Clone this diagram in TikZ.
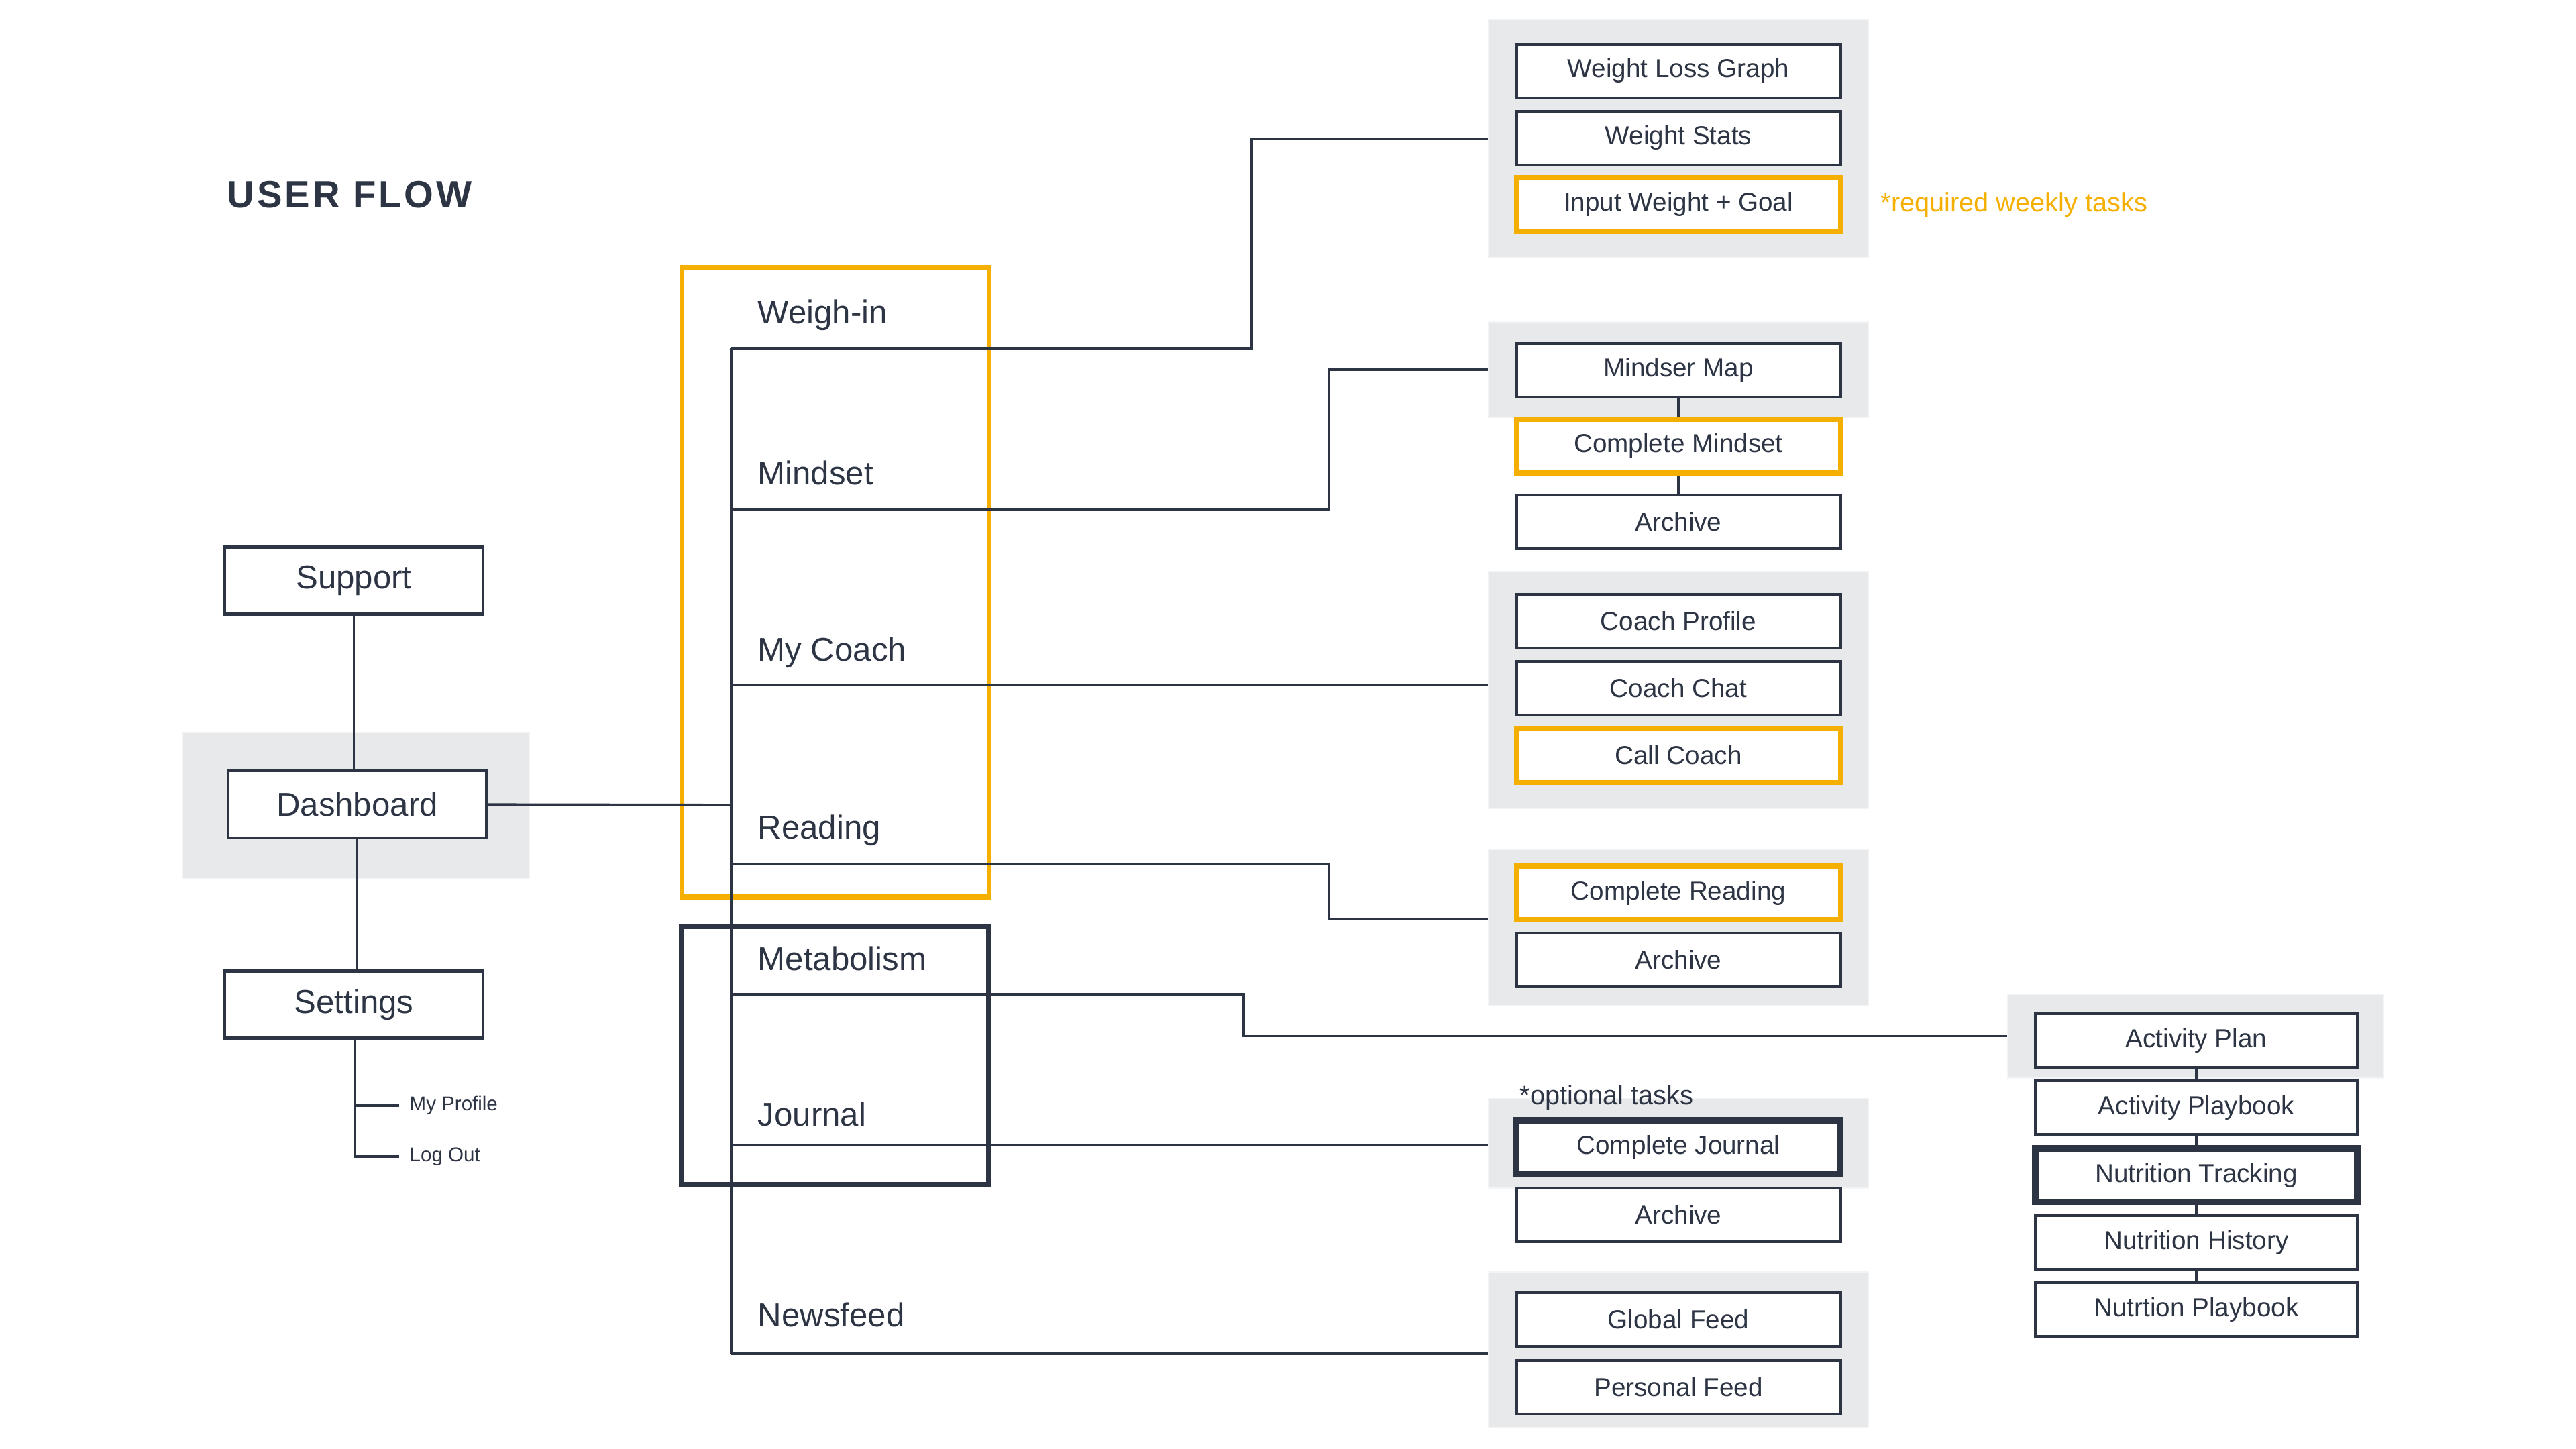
\documentclass[tikz,border=0pt]{standalone}
\usepackage{fontspec}
\setmainfont{Liberation Sans}
\usetikzlibrary{positioning}

\definecolor{tinta}{HTML}{2D3544}
\definecolor{ambar}{HTML}{F4AF00}
\definecolor{fondo}{HTML}{E8E9EB}

\tikzset{
  caja/.style={draw=tinta, line width=1.3pt, fill=white, minimum width=4.83cm, minimum height=0.8cm, inner sep=0pt, text=tinta, font=\fontsize{11}{13}\selectfont},
  tarea/.style={caja, draw=ambar, line width=2pt},
  fuerte/.style={caja, line width=2.6pt},
  panel/.style={fill=fondo, draw=fondo!50!white, line width=0.5pt, inner sep=0pt},
  enlace/.style={draw=tinta, line width=1.1pt},
  seccion/.style={text=tinta, anchor=base west, inner sep=0pt, font=\fontsize{14}{16}\selectfont},
  menu/.style={draw=tinta, line width=1.3pt, fill=white, minimum width=3.85cm, minimum height=1.0cm, inner sep=0pt, text=tinta, font=\fontsize{14}{16}\selectfont},
  nota/.style={inner sep=0pt, anchor=west, font=\fontsize{11.3}{13}\selectfont},
}

\begin{document}
\begin{tikzpicture}
  \useasboundingbox (0,0) rectangle (38.4,-21.6);

  % Titulo
  \node[text=tinta, anchor=base west, inner sep=0pt, font=\fontsize{16}{18}\selectfont\bfseries\addfontfeatures{LetterSpace=7}] (titulo) at (3.38,-3.10) {USER FLOW};

  % Fondos grises
  \node[panel, minimum width=5.17cm, minimum height=2.18cm] (pd) at (5.305,-12.01) {};
  \node[panel, minimum width=5.66cm, minimum height=3.55cm] (pw) at (25.02,-2.065) {};
  \node[panel, minimum width=5.66cm, minimum height=1.42cm] (pm) at (25.02,-5.51) {};
  \node[panel, minimum width=5.66cm, minimum height=3.53cm] (pc) at (25.02,-10.285) {};
  \node[panel, minimum width=5.66cm, minimum height=2.33cm] (pr) at (25.02,-13.825) {};
  \node[panel, minimum width=5.66cm, minimum height=1.33cm] (pj) at (25.02,-17.045) {};
  \node[panel, minimum width=5.66cm, minimum height=2.32cm] (pn) at (25.02,-20.12) {};
  \node[panel, minimum width=5.60cm, minimum height=1.25cm] (pme) at (32.73,-15.445) {};

  % Grupos (semanal y opcional)
  \draw[ambar, line width=2pt] (10.16,-3.99) rectangle (14.74,-13.37);
  \draw[tinta, line width=2.3pt] (10.16,-13.81) rectangle (14.74,-17.66);

  % Menu de la izquierda
  \node[menu] (support) at (5.275,-8.655) {Support};
  \node[menu] (dash) at (5.325,-11.99) {Dashboard};
  \node[menu] (settings) at (5.275,-14.975) {Settings};
  \draw[enlace] (support) -- (support |- dash.north);
  \draw[enlace] (dash) -- (dash |- settings.north);

  \coordinate (perfil) at (5.95,-16.48);
  \coordinate (salida) at (5.95,-17.24);
  \draw[enlace] (settings.south -| 5.29,0) |- (salida);
  \draw[enlace] (perfil -| 5.29,0) -- (perfil);
  \node[text=tinta, anchor=west, inner sep=0pt, font=\fontsize{8.4}{10}\selectfont] (myprof) at (6.10,-16.48) {My Profile};
  \node[text=tinta, anchor=west, inner sep=0pt, font=\fontsize{8.4}{10}\selectfont] (logout) at (6.10,-17.24) {Log Out};

  % Eje central
  \coordinate (wi) at (10.9,-5.19);
  \coordinate (ms) at (10.9,-7.59);
  \coordinate (mc) at (10.9,-10.21);
  \coordinate (dj) at (10.9,-12.0);
  \coordinate (rd) at (10.9,-12.88);
  \coordinate (mt) at (10.9,-14.82);
  \coordinate (jo) at (10.9,-17.07);
  \coordinate (nf) at (10.9,-20.18);
  \draw[enlace] (wi) -- (nf);
  \draw[enlace] (dash) -- (dj);

  \node[seccion] (lwi) at (11.29,-4.83) {Weigh-in};
  \node[seccion] (lms) at (11.29,-7.23) {Mindset};
  \node[seccion] (lmc) at (11.29,-9.85) {My Coach};
  \node[seccion] (lrd) at (11.29,-12.50) {Reading};
  \node[seccion] (lmt) at (11.29,-14.46) {Metabolism};
  \node[seccion] (ljo) at (11.29,-16.78) {Journal};
  \node[seccion] (lnf) at (11.29,-19.77) {Newsfeed};

  % Conectores
  \draw[enlace] (wi) -- ++(7.76,0) |- (pw.west);
  \draw[enlace] (ms) -- ++(8.91,0) |- (pm.west);
  \draw[enlace] (mc) -- (mc -| pc.west);
  \draw[enlace] (rd) -- ++(8.91,0) |- ([yshift=0.13cm]pr.west);
  \draw[enlace] (mt) -- ++(7.64,0) |- (pme.west);
  \draw[enlace] (jo) -- (jo -| pj.west);
  \draw[enlace] (nf) -- (nf -| pn.west);

  % Weigh-in
  \node[caja] (wlg) at (25.02,-1.06) {Weight Loss Graph};
  \node[caja] (wst) at (25.02,-2.06) {Weight Stats};
  \node[tarea] (iwg) at (25.02,-3.05) {Input Weight + Goal};
  \node[nota, text=ambar, right=0.56cm of iwg] (req) {*required weekly tasks};

  % Mindset
  \node[caja] (mm) at (25.02,-5.52) {Mindser Map};
  \node[tarea] (cmi) at (25.02,-6.65) {Complete Mindset};
  \node[caja] (ami) at (25.02,-7.78) {Archive};
  \draw[enlace] (mm) -- (cmi);
  \draw[enlace] (cmi) -- (ami);

  % My Coach
  \node[caja] (cp) at (25.02,-9.26) {Coach Profile};
  \node[caja] (cch) at (25.02,-10.26) {Coach Chat};
  \node[tarea] (cc) at (25.02,-11.26) {Call Coach};

  % Reading
  \node[tarea] (cr) at (25.02,-13.31) {Complete Reading};
  \node[caja] (ar) at (25.02,-14.31) {Archive};

  % Journal
  \node[nota, text=tinta] (opt) at (22.65,-16.36) {*optional tasks};
  \node[fuerte] (cj) at (25.02,-17.10) {Complete Journal};
  \node[caja] (aj) at (25.02,-18.11) {Archive};

  % Newsfeed
  \node[caja] (gf) at (25.02,-19.67) {Global Feed};
  \node[caja] (pf) at (25.02,-20.68) {Personal Feed};

  % Metabolism
  \node[caja, minimum width=4.80cm] (ap) at (32.74,-15.51) {Activity Plan};
  \node[caja, minimum width=4.80cm] (apb) at (32.74,-16.51) {Activity Playbook};
  \node[fuerte, minimum width=4.80cm] (nt) at (32.74,-17.52) {Nutrition Tracking};
  \node[caja, minimum width=4.80cm] (nh) at (32.74,-18.52) {Nutrition History};
  \node[caja, minimum width=4.80cm] (np) at (32.74,-19.52) {Nutrtion Playbook};
  \draw[enlace] (ap) -- (apb);
  \draw[enlace] (apb) -- (nt);
  \draw[enlace] (nt) -- (nh);
  \draw[enlace] (nh) -- (np);
\end{tikzpicture}
\end{document}
